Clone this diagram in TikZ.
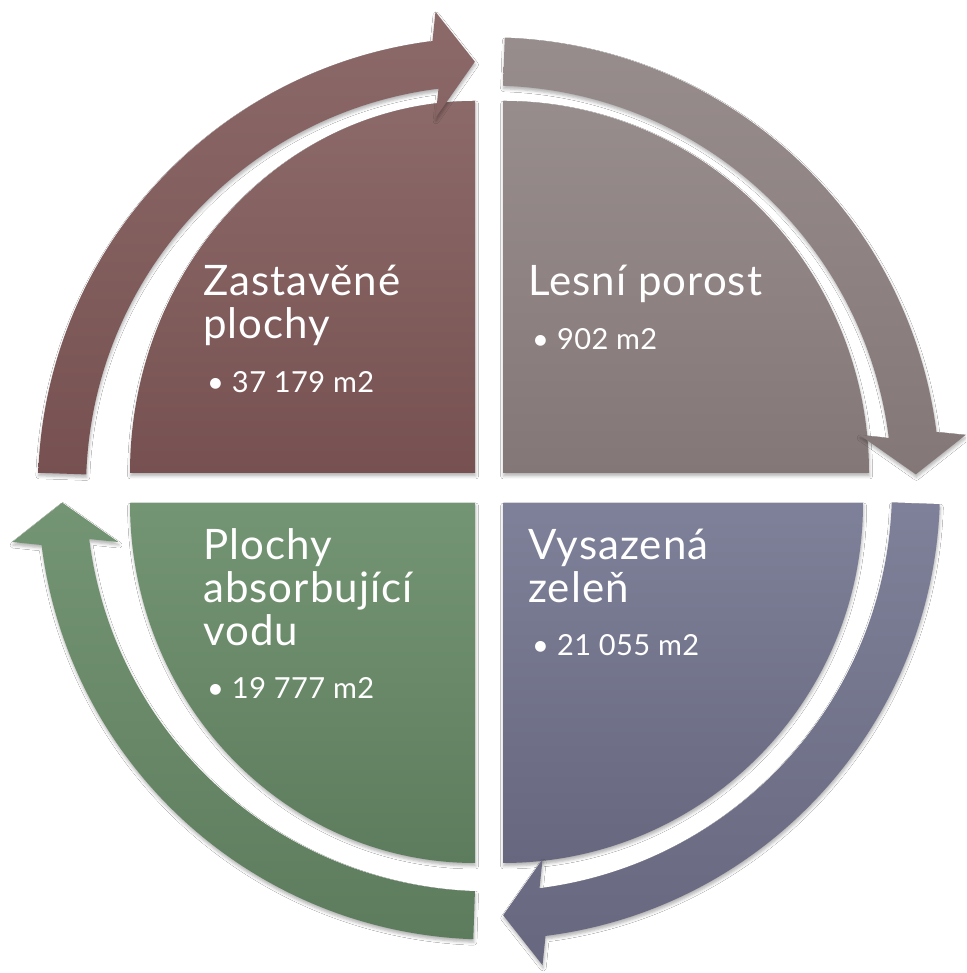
\documentclass[tikz,border=0pt]{standalone}
\usepackage{fontspec}
\setmainfont{Lato}
\newfontfamily\titlefont[LetterSpace=2.5]{Lato}
\newfontfamily\bulletfont[LetterSpace=1.5]{Lato}
\usetikzlibrary{shadows.blur}
\definecolor{tlTop}{HTML}{8C6A69}
\definecolor{tlBot}{HTML}{775151}
\definecolor{trTop}{HTML}{988D8D}
\definecolor{trBot}{HTML}{847777}
\definecolor{brTop}{HTML}{7E8199}
\definecolor{brBot}{HTML}{67677F}
\definecolor{blTop}{HTML}{749574}
\definecolor{blBot}{HTML}{5D7C5D}
\tikzset{
  shapeshadow/.style={blur shadow={shadow xshift=0.6pt, shadow yshift=-3pt, shadow blur radius=3pt, shadow opacity=30}},
  titletext/.style={anchor=base west, inner sep=0pt, text=white, font=\titlefont\fontsize{42}{50}\selectfont},
  bullettext/.style={anchor=base west, inner sep=0pt, text=white, font=\bulletfont\fontsize{29}{36}\selectfont},
}
\begin{document}
\begin{tikzpicture}[x=1pt,y=1pt]
\useasboundingbox (0,0) rectangle (966,973);
\fill[white] (0,0) rectangle (966,973);
\clip (0,0) rectangle (966,973);

% quadrant wedges (quarter ellipses)
\path[shapeshadow, top color=tlTop, bottom color=tlBot]
  (475,500) -- (130,500) arc[start angle=180, end angle=90, x radius=345pt, y radius=372pt] -- cycle;
\path[shapeshadow, top color=trTop, bottom color=trBot]
  (503,500) -- (503,872) arc[start angle=90, end angle=0, x radius=366pt, y radius=372pt] -- cycle;
\path[shapeshadow, top color=blTop, bottom color=blBot]
  (475,470) -- (130,470) arc[start angle=180, end angle=270, x radius=345pt, y radius=360pt] -- cycle;
\path[shapeshadow, top color=brTop, bottom color=brBot]
  (503,470) -- (863,470) arc[start angle=0, end angle=-90, x radius=360pt, y radius=360pt] -- cycle;

% circular arrows
\begin{scope}[shift={(489,484.5)}]
\path[shapeshadow, top color=tlTop, bottom color=tlBot]
  (178:451) arc[start angle=178, end angle=97.2, radius=451pt]
  -- (-53.52,476.63) -- (91.9:427) -- (-53.52,370.63)
  -- (97.2:403) arc[start angle=97.2, end angle=178, radius=403pt] -- cycle;
\path[shapeshadow, top color=trTop, bottom color=trBot]
  (88:451) arc[start angle=88, end angle=7.2, radius=451pt]
  -- (476.63,53.52) -- (1.9:427) -- (370.63,53.52)
  -- (7.2:403) arc[start angle=7.2, end angle=88, radius=403pt] -- cycle;
\path[shapeshadow, top color=brTop, bottom color=brBot]
  (-2:451) arc[start angle=-2, end angle=-82.8, radius=451pt]
  -- (53.52,-476.63) -- (-88.1:427) -- (53.52,-370.63)
  -- (-82.8:403) arc[start angle=-82.8, end angle=-2, radius=403pt] -- cycle;
\path[shapeshadow, top color=blTop, bottom color=blBot]
  (-92:451) arc[start angle=-92, end angle=-172.8, radius=451pt]
  -- (-476.63,-53.52) -- (-178.1:427) -- (-370.63,-53.52)
  -- (-172.8:403) arc[start angle=-172.8, end angle=-92, radius=403pt] -- cycle;
\end{scope}

% texts
\node[titletext] (tl1) at (203,677) {Zastavěné};
\node[titletext] (tl2) at (203,634) {plochy};
\node[bullettext] (tl3) at (207,580) {•\hspace{8pt}37 179 m2};

\node[titletext] (tr1) at (528,677) {Lesní porost};
\node[bullettext] (tr2) at (532,623) {•\hspace{8pt}902 m2};

\node[titletext] (br1) at (528,413) {Vysazená};
\node[titletext] (br2) at (528,370) {zeleň};
\node[bullettext] (br3) at (532,317) {•\hspace{8pt}21 055 m2};

\node[titletext] (bl1) at (203,413) {Plochy};
\node[titletext] (bl2) at (203,370) {absorbující};
\node[titletext] (bl3) at (203,327) {vodu};
\node[bullettext] (bl4) at (207,274) {•\hspace{8pt}19 777 m2};
\end{tikzpicture}
\end{document}
